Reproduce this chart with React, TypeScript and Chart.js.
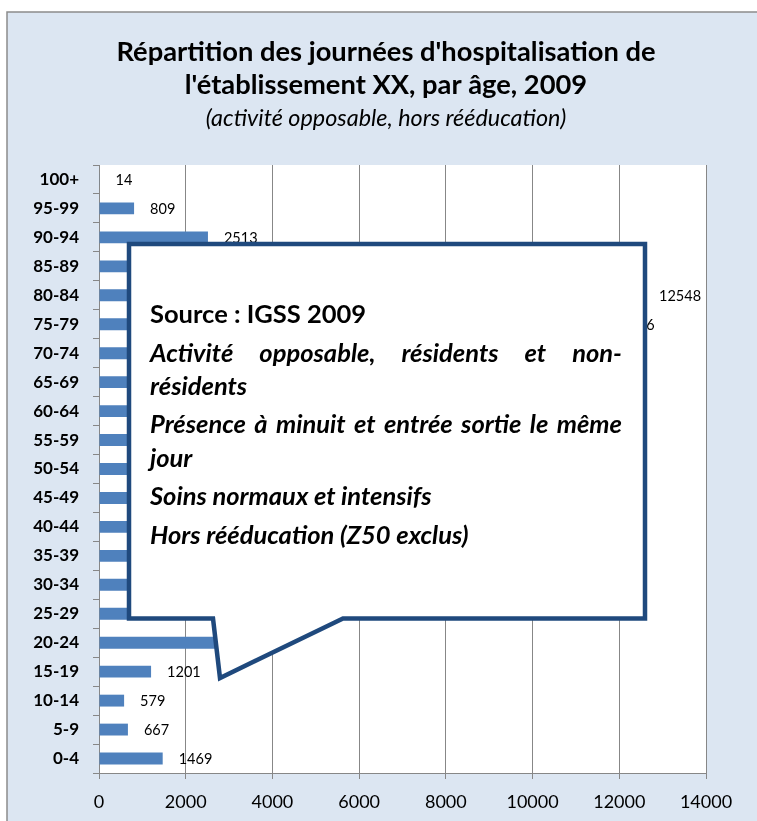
import React, { useEffect, useRef } from 'react';
import { Chart, registerables } from 'chart.js';

Chart.register(...registerables);

// Age groups, top to bottom as displayed
const ageGroups = [
  '100+', '95-99', '90-94', '85-89', '80-84', '75-79', '70-74', '65-69', '60-64',
  '55-59', '50-54', '45-49', '40-44', '35-39', '30-34', '25-29', '20-24', '15-19',
  '10-14', '5-9', '0-4',
];
// Hospital days per age group (hidden values behind the callout are estimates)
const journees = [
  14, 809, 2513, 8600, 12548, 11476, 9200, 7300, 6100,
  5200, 4300, 3600, 3100, 2700, 2600, 3000, 2850, 1201,
  579, 667, 1469,
];
const xTicks = [0, 2000, 4000, 6000, 8000, 10000, 12000, 14000];

const titleLines = [
  "Répartition des journées d'hospitalisation de",
  "l'établissement XX, par âge, 2009",
];
const subtitleText = '(activité opposable, hors rééducation)';

const calloutLines: { text: string; y: number; italic: boolean; justify: boolean }[] = [
  { text: 'Source : IGSS 2009', y: 313, italic: false, justify: false },
  { text: 'Activité opposable, résidents et non-', y: 352, italic: true, justify: true },
  { text: 'résidents', y: 385, italic: true, justify: false },
  { text: 'Présence à minuit et entrée sortie le même', y: 423, italic: true, justify: true },
  { text: 'jour', y: 457, italic: true, justify: false },
  { text: 'Soins normaux et intensifs', y: 495, italic: true, justify: false },
  { text: 'Hors rééducation (Z50 exclus)', y: 534, italic: true, justify: false },
];

const FONT = 'Lato, "Open Sans", sans-serif';
const GRID = '#878787';
const CANVAS_W = 757;
const CANVAS_H = 821;
const TITLE_CX = 386;

export default function App() {
  const ref = useRef<HTMLCanvasElement>(null);

  useEffect(() => {
    const bgPlugin = {
      id: 'bgPlugin',
      beforeDraw(chart: any) {
        const { ctx, chartArea: a, width, height } = chart;
        ctx.save();
        ctx.fillStyle = '#ffffff';
        ctx.fillRect(0, 0, width, height);
        ctx.fillStyle = '#DCE6F2';
        ctx.fillRect(7, 12, width - 7, height - 12);
        ctx.strokeStyle = '#8C8C8C';
        ctx.lineWidth = 1.5;
        ctx.beginPath();
        ctx.moveTo(7, height);
        ctx.lineTo(7, 12);
        ctx.lineTo(width, 12);
        ctx.stroke();
        ctx.fillStyle = '#ffffff';
        ctx.fillRect(a.left, a.top, a.right - a.left, a.bottom - a.top);
        // Title + subtitle (centred over the full Excel chart object)
        ctx.fillStyle = '#000000';
        ctx.textAlign = 'center';
        ctx.textBaseline = 'middle';
        ctx.font = `bold 27.3px ${FONT}`;
        titleLines.forEach((t, i) => ctx.fillText(t, TITLE_CX, 52 + i * 33));
        ctx.font = `italic 23.4px ${FONT}`;
        ctx.fillText(subtitleText, TITLE_CX, 118);
        ctx.restore();
      },
    };

    const labelPlugin = {
      id: 'valueLabels',
      afterDatasetsDraw(chart: any) {
        const { ctx } = chart;
        const meta = chart.getDatasetMeta(0);
        const values = chart.data.datasets[0].data as number[];
        ctx.save();
        ctx.font = `14.5px ${FONT}`;
        ctx.fillStyle = '#000000';
        ctx.textAlign = 'left';
        ctx.textBaseline = 'middle';
        meta.data.forEach((el: any, i: number) => {
          ctx.fillText(String(values[i]), el.x + 16, el.y + 1);
        });
        ctx.restore();
      },
    };

    const chart = new Chart(ref.current as HTMLCanvasElement, {
      type: 'bar',
      data: {
        labels: ageGroups,
        datasets: [
          {
            data: journees,
            backgroundColor: '#4F81BD',
            borderWidth: 0,
            barPercentage: 0.41,
            categoryPercentage: 1,
          },
        ],
      },
      options: {
        indexAxis: 'y',
        animation: false,
        responsive: false,
        devicePixelRatio: 1,
        layout: { padding: { left: 0, right: CANVAS_W - 706, top: 165, bottom: 0 } },
        plugins: {
          legend: { display: false },
          tooltip: { enabled: false },
          title: { display: false },
          subtitle: { display: false },
        },
        scales: {
          x: {
            type: 'linear',
            min: 0,
            max: 14000,
            afterBuildTicks: (s: any) => {
              s.ticks = xTicks.map((v) => ({ value: v }));
            },
            afterFit: (s: any) => {
              s.height = 48;
            },
            grid: { color: GRID, lineWidth: 1, tickLength: 6, drawTicks: true },
            border: { display: true, color: GRID, width: 1 },
            ticks: {
              color: '#000000',
              font: { family: FONT, size: 18 },
              padding: 12,
              maxRotation: 0,
              callback: (v: any) => String(v),
            },
          },
          y: {
            type: 'category',
            afterFit: (s: any) => {
              s.width = 99;
            },
            grid: {
              drawOnChartArea: false,
              drawTicks: true,
              tickLength: 6,
              color: GRID,
              offset: true,
            },
            border: { display: true, color: GRID, width: 1 },
            ticks: {
              color: '#000000',
              font: { family: FONT, size: 17, weight: 'bold' },
              padding: 14,
            },
          },
        },
      } as any,
      plugins: [bgPlugin, labelPlugin],
    });

    return () => chart.destroy();
  }, []);

  const path = 'M129,244 L645,244 L645,618.5 L343,618.5 L220,678 L213,618.5 L129,618.5 Z';

  return (
    <div style={{ position: 'absolute', left: 0, top: 0, width: 757, height: 821, overflow: 'hidden' }}>
      <canvas
        ref={ref}
        width={CANVAS_W}
        height={CANVAS_H}
        style={{ display: 'block', width: CANVAS_W, height: CANVAS_H }}
      />
      <svg
        width={757}
        height={821}
        style={{ position: 'absolute', left: 0, top: 0, pointerEvents: 'none' }}
      >
        <path d={path} fill="#ffffff" stroke="#1F497D" strokeWidth={4.5} strokeLinejoin="miter" />
      </svg>
      {calloutLines.map((l, i) => (
        <div
          key={i}
          style={{
            position: 'absolute',
            left: 150,
            top: l.y - 16,
            width: 472,
            height: 32,
            lineHeight: '32px',
            fontFamily: FONT,
            fontSize: 25.5,
            fontWeight: 'bold',
            fontStyle: l.italic ? 'italic' : 'normal',
            color: '#000000',
            whiteSpace: 'nowrap',
            display: 'flex',
            justifyContent: l.justify ? 'space-between' : 'flex-start',
          } as React.CSSProperties}
        >
          {l.justify
            ? l.text.split(' ').map((w, j) => <span key={j}>{w}</span>)
            : <span>{l.text}</span>}
        </div>
      ))}
    </div>
  );
}
